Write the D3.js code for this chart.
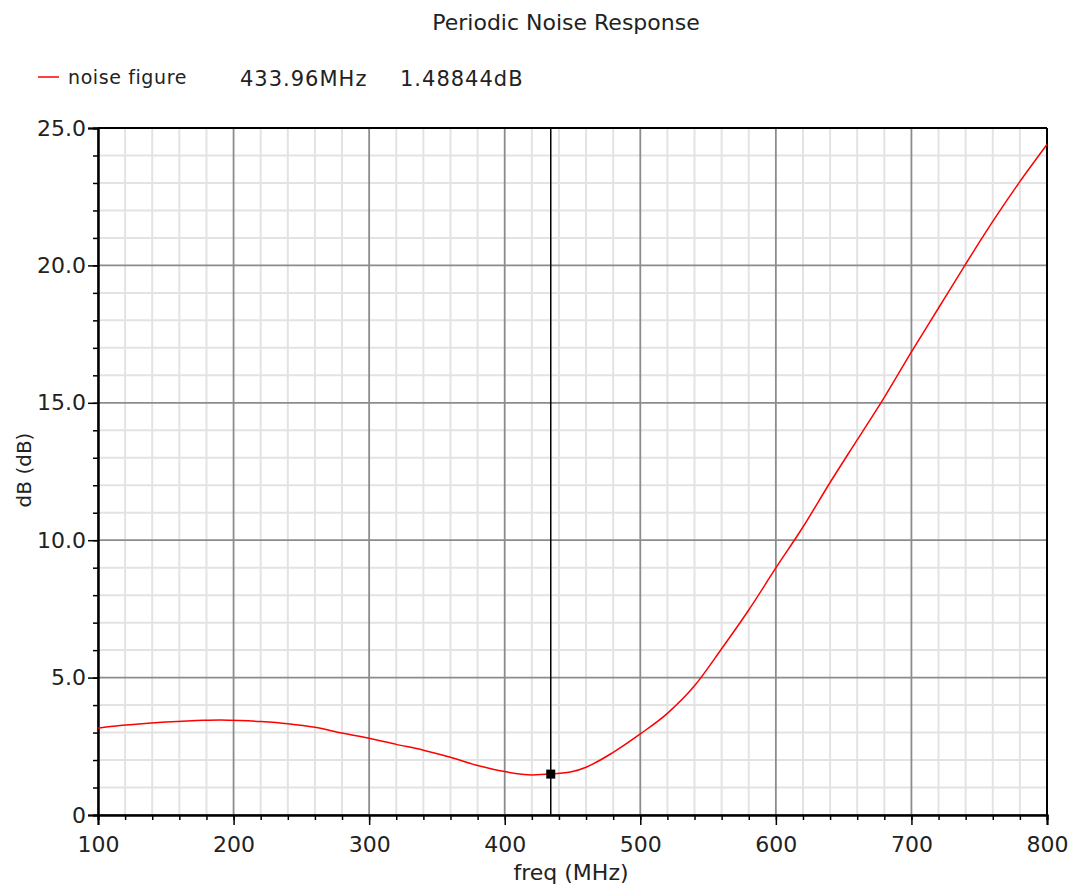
<!DOCTYPE html>
<html>
<head>
<meta charset="utf-8">
<script src="https://cdn.jsdelivr.net/npm/d3@7"></script>
<style>
  body { margin: 0; background: #fff; }
  text { font-family: "DejaVu Sans", sans-serif; fill: #222; }
</style>
</head>
<body>
<svg id="chart" width="1073" height="884"></svg>
<script>
// noise figure curve
var freq = [100, 106, 128, 150, 178, 190, 205, 220, 240, 260, 280, 300, 320, 340, 360, 380, 400, 420, 434, 450, 460, 480, 500, 520, 540, 560, 580, 600, 620, 640, 660, 680, 700, 720, 740, 760, 780, 800];
var nf   = [3.16, 3.20, 3.30, 3.38, 3.45, 3.46, 3.44, 3.40, 3.32, 3.19, 2.98, 2.79, 2.57, 2.36, 2.10, 1.80, 1.58, 1.46, 1.49, 1.58, 1.74, 2.28, 2.95, 3.70, 4.70, 6.05, 7.46, 8.99, 10.48, 12.10, 13.65, 15.20, 16.85, 18.45, 20.05, 21.60, 23.05, 24.4];
var xTicks = [100, 200, 300, 400, 500, 600, 700, 800];
var yTicks = [0, 5, 10, 15, 20, 25];
var yTickLabels = ["0", "5.0", "10.0", "15.0", "20.0", "25.0"];
var cursor = { f: 433.96, v: 1.48844 };

var svg = d3.select("#chart");
var pLeft = 98, pRight = 1047, pTop = 128, pBottom = 815;

var x = d3.scaleLinear().domain([100, 800]).range([pLeft, pRight]);
var y = d3.scaleLinear().domain([0, 25]).range([pBottom, pTop]);

var grid = svg.append("g");
// minor grid
grid.selectAll("line.mx")
  .data(d3.range(100, 801, 20).filter(d => d % 100 != 0))
  .enter().append("line")
  .attr("x1", d => x(d)).attr("x2", d => x(d))
  .attr("y1", pTop).attr("y2", pBottom)
  .attr("stroke", "#e3e3e3").attr("stroke-width", 2);
grid.selectAll("line.my")
  .data(d3.range(0, 26, 1).filter(d => d % 5 != 0))
  .enter().append("line")
  .attr("y1", d => y(d)).attr("y2", d => y(d))
  .attr("x1", pLeft).attr("x2", pRight)
  .attr("stroke", "#e3e3e3").attr("stroke-width", 2);
// major grid
grid.selectAll("line.Mx")
  .data(xTicks)
  .enter().append("line")
  .attr("x1", d => x(d)).attr("x2", d => x(d))
  .attr("y1", pTop).attr("y2", pBottom)
  .attr("stroke", "#8c8c8c").attr("stroke-width", 1.8);
grid.selectAll("line.My")
  .data(yTicks)
  .enter().append("line")
  .attr("y1", d => y(d)).attr("y2", d => y(d))
  .attr("x1", pLeft).attr("x2", pRight)
  .attr("stroke", "#8c8c8c").attr("stroke-width", 1.8);

// axes
svg.append("g")
  .attr("transform", "translate(0," + pBottom + ")")
  .call(d3.axisBottom(x).tickValues(d3.range(100, 801, 20)).tickSize(5).tickFormat(""));
svg.append("g")
  .attr("transform", "translate(0," + pBottom + ")")
  .call(d3.axisBottom(x).tickValues(xTicks).tickSize(10).tickPadding(11));
svg.append("g")
  .attr("transform", "translate(" + pLeft + ",0)")
  .call(d3.axisLeft(y).tickValues(d3.range(0, 26, 1)).tickSize(5).tickFormat(""));
svg.append("g")
  .attr("transform", "translate(" + pLeft + ",0)")
  .call(d3.axisLeft(y).tickValues(yTicks).tickSize(10).tickPadding(2)
    .tickFormat((d, i) => yTickLabels[i]));

svg.selectAll(".domain").attr("stroke", "#000").attr("stroke-width", 2);
svg.selectAll(".tick line").attr("stroke", "#000").attr("stroke-width", 1.5);
svg.selectAll(".tick text").style("font-family", "DejaVu Sans, sans-serif")
  .style("font-size", "22px").attr("fill", "#222");

// frame top and right
svg.append("line").attr("x1", pLeft).attr("x2", pRight).attr("y1", pTop).attr("y2", pTop)
  .attr("stroke", "#000").attr("stroke-width", 2);
svg.append("line").attr("x1", pRight).attr("x2", pRight).attr("y1", pTop).attr("y2", pBottom)
  .attr("stroke", "#000").attr("stroke-width", 2);

// curve
var pts = freq.map((f, i) => [f, nf[i]]);
svg.append("path")
  .datum(pts)
  .attr("fill", "none")
  .attr("stroke", "#ff0000")
  .attr("stroke-width", 1.5)
  .attr("d", d3.line().x(d => x(d[0])).y(d => y(d[1])).curve(d3.curveMonotoneX));

// cursor
svg.append("line")
  .attr("x1", x(cursor.f)).attr("x2", x(cursor.f))
  .attr("y1", pTop).attr("y2", pBottom)
  .attr("stroke", "#000").attr("stroke-width", 1.5);
svg.append("rect")
  .attr("x", x(cursor.f) - 4.5).attr("y", y(cursor.v) - 4.5)
  .attr("width", 9).attr("height", 9)
  .attr("fill", "#000");

// title, legend, labels
svg.append("text").attr("x", 566).attr("y", 30).attr("text-anchor", "middle")
  .style("font-size", "22px").text("Periodic Noise Response");
svg.append("line").attr("x1", 38).attr("x2", 59).attr("y1", 77).attr("y2", 77)
  .attr("stroke", "#ff0000").attr("stroke-width", 1.5);
svg.append("text").attr("x", 68).attr("y", 84).style("font-size", "19px")
  .style("letter-spacing", "0.6px").text("noise figure");
svg.append("text").attr("x", 240).attr("y", 86).style("font-size", "21px")
  .style("letter-spacing", "1px").text("433.96MHz");
svg.append("text").attr("x", 400).attr("y", 86).style("font-size", "21px")
  .style("letter-spacing", "1px").text("1.48844dB");

svg.append("text").attr("x", 571).attr("y", 880).attr("text-anchor", "middle")
  .style("font-size", "22px").text("freq (MHz)");
svg.append("text")
  .attr("transform", "translate(31,470) rotate(-90)")
  .attr("text-anchor", "middle")
  .style("font-size", "20px").text("dB (dB)");
</script>
</body>
</html>
